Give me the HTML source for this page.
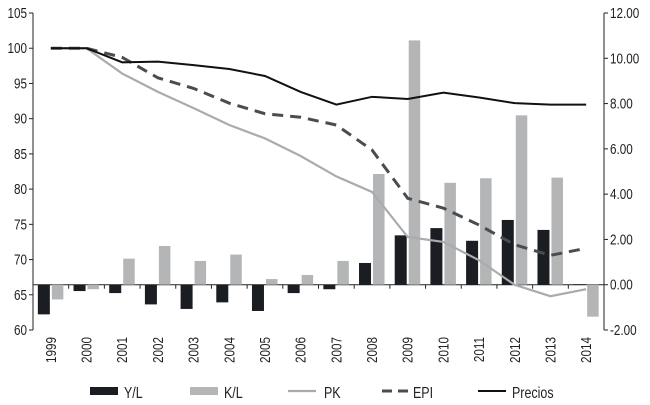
<!DOCTYPE html>
<html><head><meta charset="utf-8"><style>
html,body{margin:0;padding:0;background:#fff}
svg{display:block;font-family:"Liberation Sans Narrow","Liberation Sans",sans-serif;fill:#222}
</style></head><body>
<svg width="650" height="405" viewBox="0 0 650 405">
<g id="axes"></g><g id="bars"></g><g id="lines"></g><g id="legend"></g>
</svg>
<script>
const categories=["1999","2000","2001","2002","2003","2004","2005","2006","2007","2008","2009","2010","2011","2012","2013","2014"];
const ylValues=[-1.31,-0.28,-0.37,-0.87,-1.07,-0.78,-1.16,-0.37,-0.2,0.96,2.18,2.5,1.94,2.86,2.42,0.02];
const klValues=[-0.65,-0.2,1.15,1.71,1.05,1.33,0.25,0.43,1.05,4.89,10.79,4.5,4.7,7.48,4.73,-1.41];
const pkValues=[100,100,96.4,93.8,91.5,89.1,87.2,84.7,81.8,79.6,73.2,72.5,69.9,66.4,64.8,65.8];
const epiValues=[100,100,98.7,95.8,94.3,92.2,90.7,90.2,89.1,85.55,78.7,77.3,74.9,72.1,70.6,71.6];
const preciosValues=[100,100,98.0,98.1,97.6,97.05,96.06,93.8,92.0,93.1,92.8,93.7,93.0,92.2,92.0,92.0];
const leftTicks=[60,65,70,75,80,85,90,95,100,105];
const rightTicks=[-2,0,2,4,6,8,10,12];
const rightTickLabels=["-2.00","0.00","2.00","4.00","6.00","8.00","10.00","12.00"];

const NS="http://www.w3.org/2000/svg";
const X0=33,X1=604,YT=13,YB=330;
const bw=(X1-X0)/categories.length;
const xc=i=>X0+bw*(i+0.5);
const yL=v=>YT+(105-v)*(YB-YT)/45;
const yR=v=>YT+(12-v)*(YB-YT)/14;
const SX=0.78;
function el(tag,attrs,parent,text){const e=document.createElementNS(NS,tag);for(const k in attrs)e.setAttribute(k,attrs[k]);if(text!==undefined)e.textContent=text;parent.appendChild(e);return e;}
function txt(x,y,s,anchor,size,parent){return el('text',{x:0,y:0,'text-anchor':anchor,'font-size':size,transform:`translate(${x},${y}) scale(${SX},1)`},parent,s);}
const axes=document.getElementById('axes'),bars=document.getElementById('bars'),lines=document.getElementById('lines'),legend=document.getElementById('legend');

let a=el('line',{x1:X0,y1:YT,x2:X0,y2:YB,stroke:'#222','stroke-width':1},axes);

a=el('line',{x1:X1,y1:YT,x2:X1,y2:YB,stroke:'#222','stroke-width':1},axes);

leftTicks.forEach(v=>{
 el('line',{x1:X0-4,y1:yL(v),x2:X0,y2:yL(v),stroke:'#222'},axes);
 const t=txt(X0-6,yL(v)+5,String(v),'end',15,axes);
 
});
rightTicks.forEach((v,i)=>{
 el('line',{x1:X1,y1:yR(v),x2:X1+4,y2:yR(v),stroke:'#222'},axes);
 const t=txt(X1+6,yR(v)+5,rightTickLabels[i],'start',15,axes);
 
});
a=el('line',{x1:X0,y1:yR(0),x2:X1,y2:yR(0),stroke:'#222'},axes);

categories.forEach((c,i)=>{
 if(i>0) el('line',{x1:X0+bw*i,y1:yR(0),x2:X0+bw*i,y2:yR(0)+4,stroke:'#222'},axes);
 const t=el('text',{x:0,y:0,'text-anchor':'end','font-size':15,transform:`translate(${xc(i)+5},337) rotate(-90) scale(${SX},1)`},axes,c);
 
});
categories.forEach((c,i)=>{
 const z=yR(0);
 let v=ylValues[i],y=yR(v);
 let r=el('rect',{x:xc(i)-13,y:Math.min(y,z),width:12,height:Math.abs(y-z),fill:'#1a1d21'},bars);
 
 v=klValues[i];y=yR(v);
 r=el('rect',{x:xc(i)+1,y:Math.min(y,z),width:11.5,height:Math.abs(y-z),fill:'#b3b5b6'},bars);
 
});
function line(vals,attrs,name){
 const d=vals.map((v,i)=>(i?'L':'M')+xc(i)+' '+yL(v)).join(' ');
 const p=el('path',Object.assign({d:d,fill:'none'},attrs),lines);
 
}
line(pkValues,{stroke:'#a9abad','stroke-width':2.2},'pk-line');
line(epiValues,{stroke:'#4a4d50','stroke-width':3,'stroke-dasharray':'11 7'},'epi-line');
line(preciosValues,{stroke:'#111','stroke-width':2},'precios-line');

let g;
g=el('g',{},legend);
el('rect',{x:90,y:387,width:28,height:8,fill:'#1a1d21'},g);txt(124,398,'Y/L','start',16,g);
g=el('g',{},legend);
el('rect',{x:190,y:387,width:28,height:8,fill:'#b3b5b6'},g);txt(224,398,'K/L','start',16,g);
g=el('g',{},legend);
el('line',{x1:288,y1:391,x2:316,y2:391,stroke:'#a9abad','stroke-width':2.2},g);txt(324,398,'PK','start',16,g);
g=el('g',{},legend);
el('line',{x1:382,y1:391,x2:410,y2:391,stroke:'#4a4d50','stroke-width':3,'stroke-dasharray':'10 6'},g);txt(413,398,'EPI','start',16,g);
g=el('g',{},legend);
el('line',{x1:478,y1:391,x2:506,y2:391,stroke:'#111','stroke-width':2},g);txt(512,398,'Precios','start',16,g);
</script>
</body></html>
